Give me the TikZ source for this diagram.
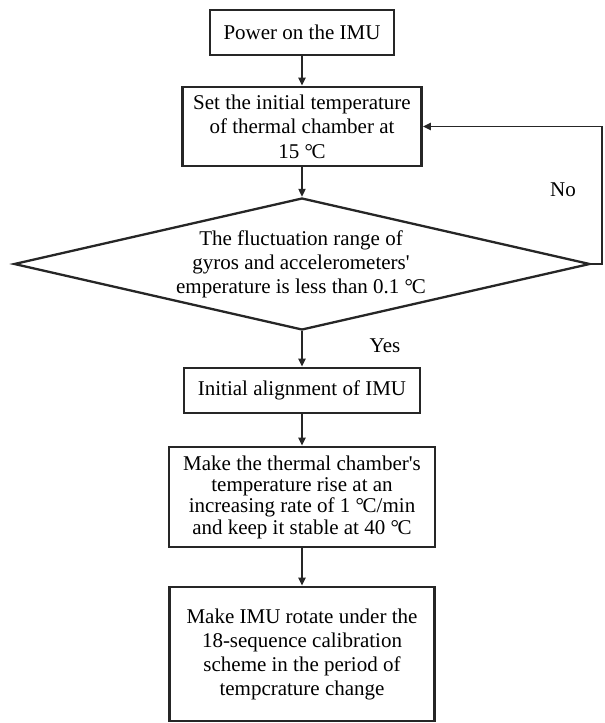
\documentclass[tikz,border=0pt]{standalone}
\usepackage{fontspec}
\setmainfont{Liberation Serif}
\newfontfamily\tnr{Liberation Serif}
\newcommand{\degc}{°\kern-0.06em C}
\usetikzlibrary{arrows.meta,shapes.geometric}
\begin{document}
\begin{tikzpicture}[x=1pt,y=-1pt,
  txt/.style={font=\tnr\fontsize{21}{24.5}\selectfont},
  box/.style={txt, draw=black!85, line width=2.6pt, inner sep=0pt, align=center},
  conn/.style={draw=black!85, line width=1.9pt, -{Triangle[length=8pt,width=7pt]}},
  lbl/.style={txt, inner sep=0pt}]
\useasboundingbox (0,0) rectangle (605,723);
\node[box, minimum width=184pt, minimum height=45pt] (b1) at (302,32.5) {Power on the IMU};
\node[box, minimum width=239pt, minimum height=79pt] (b2) at (302,126.5) {Set the initial temperature\\ of thermal chamber at\\ 15 \degc};
\node[draw=black!85, line width=2.3pt, shape=diamond, inner sep=0pt, minimum width=576pt, minimum height=132pt] (dia) at (302,264) {};
\node[lbl, align=center, font=\tnr\fontsize{21}{24}\selectfont] (dtext) at (301,264) {The fluctuation range of\\ gyros and accelerometers'\\ emperature is less than 0.1 \degc};
\node[box, minimum width=236pt, minimum height=45pt] (b3) at (302,390.5) {Initial alignment of IMU};
\node[box, minimum width=266pt, minimum height=100pt, font=\tnr\fontsize{21}{21.3}\selectfont] (b4) at (302,497) {Make the thermal chamber's\\ temperature rise at an\\ increasing rate of 1 \degc/min\\ and keep it stable at 40 \degc};
\node[box, minimum width=265pt, minimum height=134pt, font=\tnr\fontsize{21}{24}\selectfont] (b5) at (302,654) {Make IMU rotate under the\\ 18-sequence calibration\\ scheme in the period of\\ tempcrature change};
\node[lbl] (no) at (563,190) {No};
\node[lbl] (yes) at (385,346) {Yes};
\coordinate (loop) at (602,264);
\draw[conn] (b1) -- (b2);
\draw[conn] (b2) -- (dia.north);
\draw[conn] (dia.south) -- (b3);
\draw[conn] (b3) -- (b4);
\draw[conn] (b4) -- (b5);
\draw[conn] (dia.east) -- (loop) |- (b2.east);
\end{tikzpicture}
\end{document}
